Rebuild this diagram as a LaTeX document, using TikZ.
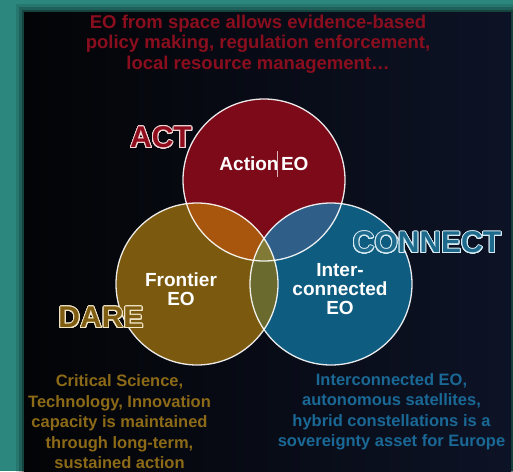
\documentclass[tikz,border=0pt]{standalone}
\usepackage{fontspec}
\setmainfont{Liberation Sans}
\usepackage[copies]{contour}
\contournumber{32}
\contourlength{0.9pt}
\definecolor{bgteal}{HTML}{2C887E}
\definecolor{panelL}{HTML}{030406}
\definecolor{panelR}{HTML}{0D1326}
\definecolor{actred}{HTML}{7D0A19}
\definecolor{dareb}{HTML}{7B590F}
\definecolor{connb}{HTML}{0E5C80}
\definecolor{ovRB}{HTML}{A8560E}
\definecolor{ovRC}{HTML}{2F5E88}
\definecolor{ovBC}{HTML}{6B6A2E}
\definecolor{ovAll}{HTML}{807A36}
\definecolor{toptxt}{HTML}{8A0E1E}
\definecolor{goldtxt}{HTML}{8C6A17}
\definecolor{bluetxt}{HTML}{1A6895}
\definecolor{actfill}{HTML}{8E0C1C}
\definecolor{actline}{HTML}{F0D8D8}
\definecolor{connfill}{HTML}{1D6A8C}
\definecolor{connline}{HTML}{D8ECF4}
\definecolor{darefill}{HTML}{7E5C12}
\definecolor{dareline}{HTML}{F2E6C8}
\tikzset{
  venn/.style={circle, minimum size=162pt, inner sep=0pt},
  vlabel/.style={text=white, font=\bfseries\fontsize{19}{19}\selectfont, align=center, inner sep=0pt},
  bigword/.style={font=\bfseries\fontsize{30}{30}\selectfont, inner sep=0pt},
  bottomtxt/.style={font=\bfseries\fontsize{16.5}{20.5}\selectfont, align=center, inner sep=0pt},
}
\begin{document}
\begin{tikzpicture}[x=1pt,y=-1pt]
\useasboundingbox (0,0) rectangle (513,471);
\fill[bgteal] (0,0) rectangle (513,471);
\foreach \d/\o in {8/0.12,5/0.18,2.5/0.3}
  \fill[black,opacity=\o] (24-\d,12-\d) rectangle (511+\d,471+\d);
\shade[left color=panelL,right color=panelR] (24,12) rectangle (511,471);

% circles
\node[venn, fill=actred] (act) at (264,180) {};
\node[venn, fill=dareb] (dare) at (197,284) {};
\node[venn, fill=connb] (conn) at (331,284) {};
\begin{scope}
  \clip (264,180) circle (81pt);
  \fill[ovRB] (197,284) circle (81pt);
  \fill[ovRC] (331,284) circle (81pt);
\end{scope}
\begin{scope}
  \clip (197,284) circle (81pt);
  \fill[ovBC] (331,284) circle (81pt);
  \clip (331,284) circle (81pt);
  \fill[ovAll] (264,180) circle (81pt);
\end{scope}
\foreach \c in {(264,180),(197,284),(331,284)}
  \draw[white, line width=1.3pt, opacity=0.9] \c circle (81pt);

% circle labels
\node[vlabel] (actlbl) at (264,164) {Action\hspace{2.5pt}EO};
\draw[white!70!actred, line width=0.6pt] (277.5,151) -- (277.5,177);
\node[vlabel] (darelbl) at (181,289) {Frontier\\EO};
\node[vlabel] (connlbl) at (340,289) {Inter-\\connected\\EO};

% outlined words
\node[bigword] (actw) at (161,138) {\contour{actline}{\textcolor{actfill}{ACT}}};
\node[bigword] (connw) at (427,243) {\contour{connline}{\textcolor{connfill}{CONNECT}}};
\node[bigword] (darew) at (101,318) {\contour{dareline}{\textcolor{darefill}{DARE}}};

% texts
\node[bottomtxt, text=toptxt, font=\bfseries\fontsize{18.5}{20.5}\selectfont] (toptext) at (258,44)
  {EO from space allows evidence-based\\policy making, regulation enforcement,\\local resource management…};
\node[bottomtxt, text=goldtxt] (lefttext) at (119.5,422)
  {Critical Science,\\Technology, Innovation\\capacity is maintained\\through long-term,\\sustained action};
\node[bottomtxt, text=bluetxt] (righttext) at (391.5,412)
  {Interconnected EO,\\autonomous satellites,\\hybrid constellations is a\\sovereignty asset for Europe};
\end{tikzpicture}
\end{document}
